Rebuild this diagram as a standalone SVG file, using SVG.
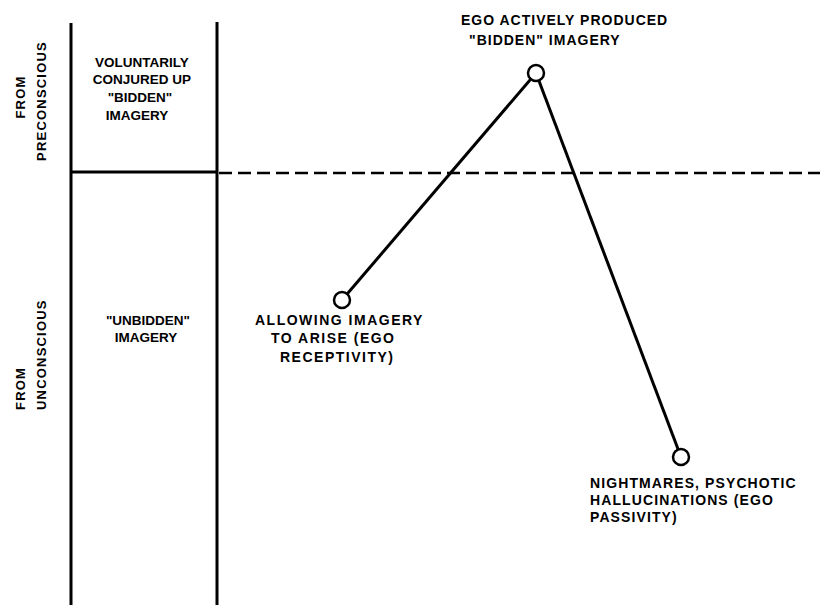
<svg xmlns="http://www.w3.org/2000/svg" width="820" height="605" viewBox="0 0 820 605">
<style>
text{font-family:"Liberation Sans",Arial,sans-serif;font-weight:bold;font-size:12.5px;fill:#000;letter-spacing:0.6px}
.c{text-anchor:middle}
.ax{font-size:13px;letter-spacing:1.2px}
.bx{font-size:13.5px;letter-spacing:0px}
.tp{font-size:14px;letter-spacing:1px}
.lb{font-size:14px;letter-spacing:1.1px}
.la{font-size:14px;letter-spacing:1.5px}
.ln{stroke:#000;stroke-width:3;fill:none}
.dl{stroke:#000;stroke-width:2.5;fill:none;stroke-dasharray:13 6}
.nd{stroke:#000;stroke-width:2.5;fill:#fff}
</style>
<rect width="820" height="605" fill="#fff"/>
<g id="frame">
<line class="ln" x1="71" y1="23" x2="71" y2="605"/>
<line class="ln" x1="217" y1="22" x2="217" y2="605"/>
<line class="ln" x1="71" y1="172" x2="217" y2="172"/>
<line class="dl" x1="219" y1="173" x2="820" y2="173"/>
</g>
<g id="axis-labels">
<text class="c ax" transform="translate(25,97) rotate(-90)">FROM</text>
<text class="c ax" transform="translate(46,101) rotate(-90)">PRECONSCIOUS</text>
<text class="ax" transform="translate(25,410) rotate(-90)">FROM</text>
<text class="ax" transform="translate(46,410) rotate(-90)">UNCONSCIOUS</text>
</g>
<g id="bidden-box">
<text class="c bx" x="142" y="67">VOLUNTARILY</text>
<text class="c bx" x="142" y="84">CONJURED UP</text>
<text class="c bx" x="140" y="102">"BIDDEN"</text>
<text class="c bx" x="137" y="120">IMAGERY</text>
</g>
<g id="unbidden-box">
<text class="c bx" x="148" y="325">"UNBIDDEN"</text>
<text class="c bx" x="146" y="342">IMAGERY</text>
</g>
<g id="connectors">
<line class="ln" x1="342" y1="300" x2="536" y2="73"/>
<line class="ln" x1="536" y1="73" x2="681" y2="457"/>
</g>
<g id="node-ego-active">
<circle class="nd" cx="536" cy="73" r="8"/>
<text class="tp" x="461" y="25">EGO ACTIVELY PRODUCED</text>
<text class="tp" x="469" y="45">"BIDDEN" IMAGERY</text>
</g>
<g id="node-allowing">
<circle class="nd" cx="342" cy="300" r="8"/>
<text class="la" x="255" y="325">ALLOWING IMAGERY</text>
<text class="la" x="271" y="343">TO ARISE (EGO</text>
<text class="la" x="280" y="362">RECEPTIVITY)</text>
</g>
<g id="node-nightmares">
<circle class="nd" cx="681" cy="457" r="8"/>
<text class="lb" x="590" y="488">NIGHTMARES, PSYCHOTIC</text>
<text class="lb" x="590" y="505">HALLUCINATIONS (EGO</text>
<text class="lb" x="590" y="522">PASSIVITY)</text>
</g>
</svg>
